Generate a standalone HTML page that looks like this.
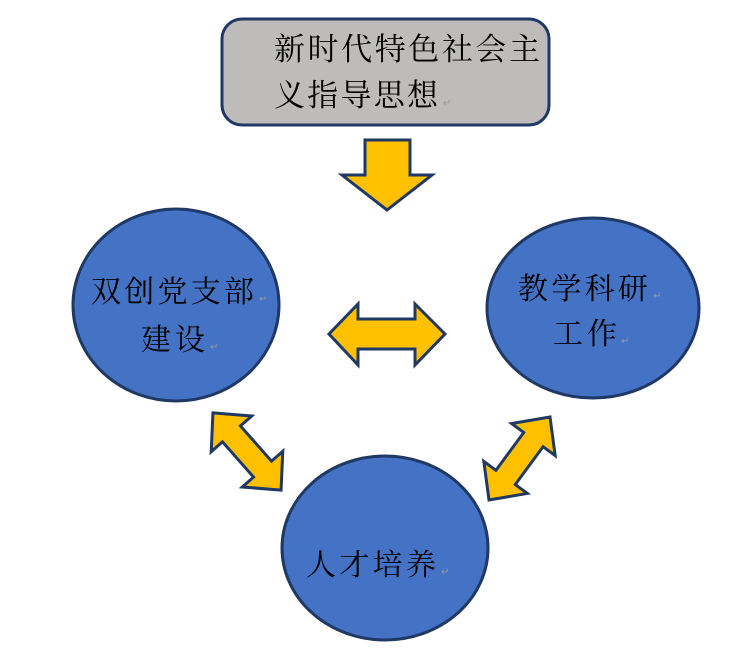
<!DOCTYPE html>
<html><head><meta charset="utf-8"><style>
body{margin:0;background:#fff;}
svg{display:block;}
text{font-family:"Liberation Serif","Noto Serif CJK SC","Noto Sans CJK SC",serif;fill:#000;}
.r{font-size:10px;fill:#999;}
</style></head><body>
<svg width="739" height="662" viewBox="0 0 739 662" xmlns="http://www.w3.org/2000/svg">
<rect x="222" y="19" width="327" height="106" rx="20" fill="#bdbcbb" stroke="#1f3864" stroke-width="3"/>
<text x="274" y="60" font-size="31" textLength="266">新时代特色社会主</text>
<text x="274" y="106" font-size="31" textLength="164">义指导思想</text>
<text x="443" y="106" class="r">↵</text>

<polygon points="365,140 410,140 410,175 432,175 387,210 342,175 365,175" fill="#ffc000" stroke="#1f3864" stroke-width="3" stroke-linejoin="miter"/>

<ellipse cx="176" cy="305" rx="103" ry="96" fill="#4472c4" stroke="#1f3864" stroke-width="3"/>
<text x="91" y="302" font-size="30" textLength="163">双创党支部</text>
<text x="259" y="302" class="r">↵</text>
<text x="141" y="350" font-size="30" textLength="64">建设</text>
<text x="210" y="350" class="r">↵</text>

<ellipse cx="593" cy="308" rx="106" ry="90" fill="#4472c4" stroke="#1f3864" stroke-width="3"/>
<text x="518" y="299" font-size="30" textLength="130">教学科研</text>
<text x="653" y="299" class="r">↵</text>
<text x="553" y="344" font-size="30" textLength="64">工作</text>
<text x="621" y="344" class="r">↵</text>

<ellipse cx="385" cy="548" rx="103" ry="92" fill="#4472c4" stroke="#1f3864" stroke-width="3"/>
<text x="306" y="575" font-size="30" textLength="130">人才培养</text>
<text x="441" y="575" class="r">↵</text>

<polygon points="329,334 358,304 358,319 415,319 415,304 445,334 415,365 415,349 358,349 358,365" fill="#ffc000" stroke="#1f3864" stroke-width="3"/>

<g transform="translate(247,451.5) rotate(48.6)">
<polygon points="-51.5,0 -23.5,-27 -23.5,-12 23.5,-12 23.5,-27 51.5,0 23.5,27 23.5,12 -23.5,12 -23.5,27" fill="#ffc000" stroke="#1f3864" stroke-width="3"/>
</g>
<g transform="translate(519.5,458.5) rotate(-53.7)">
<polygon points="-51.5,0 -23.5,-27 -23.5,-12 23.5,-12 23.5,-27 51.5,0 23.5,27 23.5,12 -23.5,12 -23.5,27" fill="#ffc000" stroke="#1f3864" stroke-width="3"/>
</g>
</svg>
</body></html>
